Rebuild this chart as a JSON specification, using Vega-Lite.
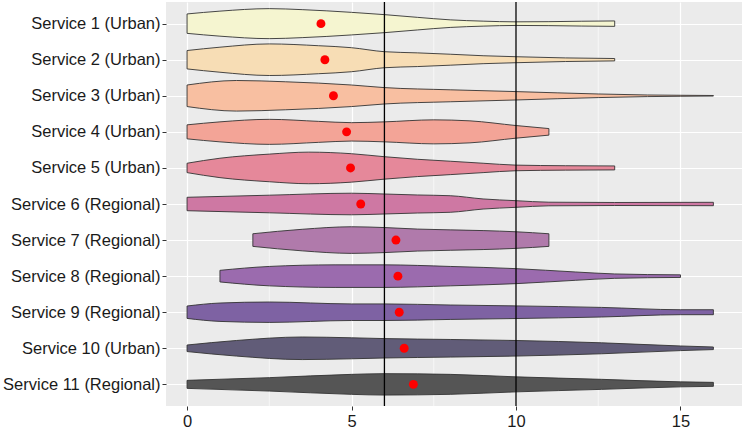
{
  "$schema": "https://vega.github.io/schema/vega-lite/v6.json",
  "width": 576,
  "height": 404,
  "autosize": {"type": "none"},
  "padding": {"left": 166, "top": 2, "right": 0, "bottom": 22},
  "background": "white",
  "config": {"view": {"fill": "#EBEBEB", "stroke": null}, "font": "Liberation Sans"},
  "datasets": {
    "violin": [
      {"s": 1, "v": 0, "lo": 0.731, "hi": 1.269}, {"s": 1, "v": 1, "lo": 0.653, "hi": 1.347}, {"s": 1, "v": 2.5, "lo": 0.584, "hi": 1.416}, {"s": 1, "v": 3.5, "lo": 0.612, "hi": 1.388}, {"s": 1, "v": 5, "lo": 0.687, "hi": 1.313}, {"s": 1, "v": 6, "lo": 0.75, "hi": 1.25}, {"s": 1, "v": 7, "lo": 0.825, "hi": 1.175}, {"s": 1, "v": 8, "lo": 0.895, "hi": 1.105}, {"s": 1, "v": 9, "lo": 0.931, "hi": 1.069}, {"s": 1, "v": 10, "lo": 0.95, "hi": 1.05}, {"s": 1, "v": 11, "lo": 0.945, "hi": 1.055}, {"s": 1, "v": 12, "lo": 0.933, "hi": 1.067}, {"s": 1, "v": 13, "lo": 0.925, "hi": 1.075},
      {"s": 2, "v": 0, "lo": 1.745, "hi": 2.255}, {"s": 2, "v": 1, "lo": 1.653, "hi": 2.347}, {"s": 2, "v": 2.5, "lo": 1.562, "hi": 2.438}, {"s": 2, "v": 4, "lo": 1.612, "hi": 2.388}, {"s": 2, "v": 5, "lo": 1.667, "hi": 2.333}, {"s": 2, "v": 6, "lo": 1.778, "hi": 2.222}, {"s": 2, "v": 7, "lo": 1.81, "hi": 2.19}, {"s": 2, "v": 8, "lo": 1.848, "hi": 2.152}, {"s": 2, "v": 9, "lo": 1.89, "hi": 2.11}, {"s": 2, "v": 10, "lo": 1.917, "hi": 2.083}, {"s": 2, "v": 11.5, "lo": 1.95, "hi": 2.05}, {"s": 2, "v": 13, "lo": 1.967, "hi": 2.033},
      {"s": 3, "v": 0, "lo": 2.701, "hi": 3.299}, {"s": 3, "v": 1.5, "lo": 2.576, "hi": 3.424}, {"s": 3, "v": 3, "lo": 2.612, "hi": 3.388}, {"s": 3, "v": 5, "lo": 2.701, "hi": 3.299}, {"s": 3, "v": 6, "lo": 2.773, "hi": 3.227}, {"s": 3, "v": 8, "lo": 2.834, "hi": 3.166}, {"s": 3, "v": 10, "lo": 2.884, "hi": 3.116}, {"s": 3, "v": 12.5, "lo": 2.95, "hi": 3.05}, {"s": 3, "v": 14, "lo": 2.978, "hi": 3.022}, {"s": 3, "v": 15, "lo": 2.986, "hi": 3.014}, {"s": 3, "v": 16, "lo": 2.992, "hi": 3.008},
      {"s": 4, "v": 0, "lo": 3.806, "hi": 4.194}, {"s": 4, "v": 1, "lo": 3.723, "hi": 4.277}, {"s": 4, "v": 2.5, "lo": 3.653, "hi": 4.347}, {"s": 4, "v": 4, "lo": 3.709, "hi": 4.291}, {"s": 4, "v": 5, "lo": 3.745, "hi": 4.255}, {"s": 4, "v": 6, "lo": 3.723, "hi": 4.277}, {"s": 4, "v": 7.5, "lo": 3.667, "hi": 4.333}, {"s": 4, "v": 8.6, "lo": 3.695, "hi": 4.305}, {"s": 4, "v": 10, "lo": 3.825, "hi": 4.175}, {"s": 4, "v": 11, "lo": 3.909, "hi": 4.091},
      {"s": 5, "v": 0, "lo": 4.87, "hi": 5.13}, {"s": 5, "v": 1, "lo": 4.731, "hi": 5.269}, {"s": 5, "v": 2.5, "lo": 4.617, "hi": 5.383}, {"s": 5, "v": 3.7, "lo": 4.562, "hi": 5.438}, {"s": 5, "v": 5, "lo": 4.606, "hi": 5.394}, {"s": 5, "v": 6, "lo": 4.689, "hi": 5.311}, {"s": 5, "v": 7, "lo": 4.76, "hi": 5.24}, {"s": 5, "v": 8, "lo": 4.814, "hi": 5.186}, {"s": 5, "v": 9, "lo": 4.87, "hi": 5.13}, {"s": 5, "v": 10, "lo": 4.922, "hi": 5.078}, {"s": 5, "v": 11.5, "lo": 4.939, "hi": 5.061}, {"s": 5, "v": 13, "lo": 4.945, "hi": 5.055},
      {"s": 6, "v": 0, "lo": 5.814, "hi": 6.186}, {"s": 6, "v": 2.5, "lo": 5.756, "hi": 6.244}, {"s": 6, "v": 5, "lo": 5.701, "hi": 6.299}, {"s": 6, "v": 6, "lo": 5.723, "hi": 6.277}, {"s": 6, "v": 7, "lo": 5.75, "hi": 6.25}, {"s": 6, "v": 8, "lo": 5.77, "hi": 6.23}, {"s": 6, "v": 9, "lo": 5.86, "hi": 6.14}, {"s": 6, "v": 10, "lo": 5.908, "hi": 6.092}, {"s": 6, "v": 11, "lo": 5.95, "hi": 6.05}, {"s": 6, "v": 13, "lo": 5.958, "hi": 6.042}, {"s": 6, "v": 16, "lo": 5.953, "hi": 6.047},
      {"s": 7, "v": 2, "lo": 6.825, "hi": 7.175}, {"s": 7, "v": 3.5, "lo": 6.701, "hi": 7.299}, {"s": 7, "v": 5, "lo": 6.631, "hi": 7.369}, {"s": 7, "v": 6, "lo": 6.653, "hi": 7.347}, {"s": 7, "v": 7, "lo": 6.695, "hi": 7.305}, {"s": 7, "v": 8, "lo": 6.717, "hi": 7.283}, {"s": 7, "v": 9, "lo": 6.737, "hi": 7.263}, {"s": 7, "v": 10, "lo": 6.77, "hi": 7.23}, {"s": 7, "v": 11, "lo": 6.825, "hi": 7.175},
      {"s": 8, "v": 1, "lo": 7.839, "hi": 8.161}, {"s": 8, "v": 2.5, "lo": 7.731, "hi": 8.269}, {"s": 8, "v": 4.5, "lo": 7.687, "hi": 8.313}, {"s": 8, "v": 6, "lo": 7.687, "hi": 8.313}, {"s": 8, "v": 8, "lo": 7.731, "hi": 8.269}, {"s": 8, "v": 10, "lo": 7.792, "hi": 8.208}, {"s": 8, "v": 11.8, "lo": 7.884, "hi": 8.116}, {"s": 8, "v": 13, "lo": 7.939, "hi": 8.061}, {"s": 8, "v": 15, "lo": 7.964, "hi": 8.036},
      {"s": 9, "v": 0, "lo": 8.828, "hi": 9.172}, {"s": 9, "v": 1, "lo": 8.745, "hi": 9.255}, {"s": 9, "v": 2.5, "lo": 8.717, "hi": 9.283}, {"s": 9, "v": 5, "lo": 8.77, "hi": 9.23}, {"s": 9, "v": 6, "lo": 8.77, "hi": 9.23}, {"s": 9, "v": 8, "lo": 8.8, "hi": 9.2}, {"s": 9, "v": 10, "lo": 8.825, "hi": 9.175}, {"s": 9, "v": 12.6, "lo": 8.867, "hi": 9.133}, {"s": 9, "v": 15, "lo": 8.931, "hi": 9.069}, {"s": 9, "v": 16, "lo": 8.931, "hi": 9.069},
      {"s": 10, "v": 0, "lo": 9.909, "hi": 10.091}, {"s": 10, "v": 1.5, "lo": 9.784, "hi": 10.216}, {"s": 10, "v": 3.5, "lo": 9.687, "hi": 10.313}, {"s": 10, "v": 5, "lo": 9.709, "hi": 10.291}, {"s": 10, "v": 6, "lo": 9.731, "hi": 10.269}, {"s": 10, "v": 8, "lo": 9.756, "hi": 10.244}, {"s": 10, "v": 10, "lo": 9.784, "hi": 10.216}, {"s": 10, "v": 12.6, "lo": 9.848, "hi": 10.152}, {"s": 10, "v": 15, "lo": 9.936, "hi": 10.064}, {"s": 10, "v": 16, "lo": 9.964, "hi": 10.036},
      {"s": 11, "v": 0, "lo": 10.889, "hi": 11.111}, {"s": 11, "v": 2.5, "lo": 10.814, "hi": 11.186}, {"s": 11, "v": 5, "lo": 10.723, "hi": 11.277}, {"s": 11, "v": 6, "lo": 10.703, "hi": 11.297}, {"s": 11, "v": 7, "lo": 10.709, "hi": 11.291}, {"s": 11, "v": 8, "lo": 10.723, "hi": 11.277}, {"s": 11, "v": 10, "lo": 10.792, "hi": 11.208}, {"s": 11, "v": 12.6, "lo": 10.861, "hi": 11.139}, {"s": 11, "v": 15, "lo": 10.931, "hi": 11.069}, {"s": 11, "v": 16, "lo": 10.945, "hi": 11.055}
    ],
    "means": [
      {"s": 1, "v": 4.07}, {"s": 2, "v": 4.19}, {"s": 3, "v": 4.45}, {"s": 4, "v": 4.85}, {"s": 5, "v": 4.97}, {"s": 6, "v": 5.28},
      {"s": 7, "v": 6.35}, {"s": 8, "v": 6.41}, {"s": 9, "v": 6.45}, {"s": 10, "v": 6.6}, {"s": 11, "v": 6.88}
    ],
    "refs": [{"v": 6}, {"v": 10}],
    "minor": [{"v": 2.5}, {"v": 7.5}, {"v": 12.5}]
  },
  "layer": [
    {
      "data": {"name": "minor"},
      "mark": {"type": "rule", "color": "white", "strokeWidth": 0.6},
      "encoding": {
        "x": {"field": "v", "type": "quantitative", "title": null,
              "scale": {"domain": [-0.64, 16.87], "nice": false, "zero": false},
              "axis": {"values": [0, 5, 10, 15], "grid": true, "gridColor": "white", "gridWidth": 1.2,
                       "domain": false, "tickColor": "#333333", "tickSize": 4, "tickWidth": 1,
                       "labelFontSize": 16.5, "labelColor": "#1a1a1a", "labelPadding": 3, "labelFont": "Liberation Sans"}}
      }
    },
    {
      "data": {"name": "violin"},
      "mark": {"type": "area", "interpolate": "monotone", "stroke": "#333333", "strokeWidth": 0.9, "fillOpacity": 1},
      "encoding": {
        "x": {"field": "v", "type": "quantitative", "title": null,
              "scale": {"domain": [-0.64, 16.87], "nice": false, "zero": false}},
        "y": {"field": "hi", "type": "quantitative", "title": null,
              "scale": {"domain": [0.4, 11.6], "reverse": true, "nice": false, "zero": false},
              "axis": {"values": [1, 2, 3, 4, 5, 6, 7, 8, 9, 10, 11], "grid": true, "gridColor": "white", "gridWidth": 1.2,
                       "domain": false, "tickColor": "#333333", "tickSize": 4, "tickWidth": 1,
                       "labelFontSize": 16.5, "labelColor": "#1a1a1a", "labelPadding": 2, "labelFont": "Liberation Sans",
                       "labelExpr": "['','Service 1 (Urban)','Service 2 (Urban)','Service 3 (Urban)','Service 4 (Urban)','Service 5 (Urban)','Service 6 (Regional)','Service 7 (Regional)','Service 8 (Regional)','Service 9 (Regional)','Service 10 (Urban)','Service 11 (Regional)'][datum.value]"}},
        "y2": {"field": "lo"},
        "color": {"field": "s", "type": "nominal", "legend": null,
                  "scale": {"domain": [1, 2, 3, 4, 5, 6, 7, 8, 9, 10, 11],
                            "range": ["#F5F5D0", "#F7DDB5", "#F8BFA1", "#F3A497", "#E5889A", "#CE78A3", "#B07AAB", "#9B6BAE", "#7E62A3", "#615C78", "#555555"]}}
      }
    },
    {
      "data": {"name": "refs"},
      "mark": {"type": "rule", "color": "black", "strokeWidth": 1.3},
      "encoding": {
        "x": {"field": "v", "type": "quantitative", "title": null}
      }
    },
    {
      "data": {"name": "means"},
      "mark": {"type": "point", "filled": true, "color": "#FF0000", "opacity": 1, "size": 80},
      "encoding": {
        "x": {"field": "v", "type": "quantitative", "title": null},
        "y": {"field": "s", "type": "quantitative", "title": null}
      }
    }
  ]
}
